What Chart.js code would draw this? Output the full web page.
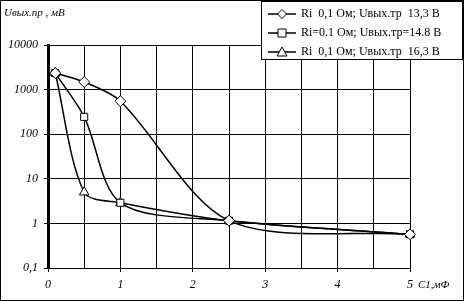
<!DOCTYPE html>
<html>
<head>
<meta charset="utf-8">
<script src="https://cdn.jsdelivr.net/npm/chart.js@4"></script>
<style>
  body { margin: 0; background: #fff; }
  #wrap { width: 464px; height: 301px; }
</style>
</head>
<body>
<div id="wrap"><canvas id="capChart" width="464" height="301"></canvas></div>
<script>
// Capacitance values C1, mF
const capValues = [0.1, 0.5, 1, 2.5, 5];

// Output ripple voltage, mV, for the three cases
const rippleA = [2350, 1480, 550, 1.15, 0.57];
const rippleB = [2350, 245, 2.9, 1.15, 0.57];
const rippleC = [2350, 5.0, 2.9, 1.15, 0.57];

const seriesLabels = [
    'Ri  0,1 Ом; Uвых.тр  13,3 В',
    'Ri=0.1 Ом; Uвых.тр=14.8 В',
    'Ri  0,1 Ом; Uвых.тр  16,3 В'
];
const seriesMarkers = ['rectRot', 'rect', 'triangle'];

const yTickValues = [0.1, 1, 10, 100, 1000, 10000];
const xTickStep = 0.5;

const serif = 'Liberation Serif, Times New Roman, serif';

function toPoints(values) {
    return capValues.map((c, i) => ({ x: c, y: values[i] }));
}

// Draw a marker like the ones in the legend
function drawMarker(ctx, type, x, y) {
    ctx.save();
    ctx.fillStyle = '#fff';
    ctx.strokeStyle = '#000';
    ctx.lineWidth = 1;
    ctx.beginPath();
    if (type === 'rectRot') {
        ctx.moveTo(x, y - 4.5);
        ctx.lineTo(x + 4.5, y);
        ctx.lineTo(x, y + 4.5);
        ctx.lineTo(x - 4.5, y);
    } else if (type === 'rect') {
        ctx.rect(x - 4, y - 4, 8, 8);
    } else {
        ctx.moveTo(x, y - 5);
        ctx.lineTo(x + 5, y + 4);
        ctx.lineTo(x - 5, y + 4);
    }
    ctx.closePath();
    ctx.fill();
    ctx.stroke();
    ctx.restore();
}

// White background, frame, titles and the boxed legend
const decorPlugin = {
    id: 'decor',
    beforeDraw(chart) {
        const ctx = chart.ctx;
        ctx.save();
        ctx.fillStyle = '#fff';
        ctx.fillRect(0, 0, chart.width, chart.height);
        ctx.restore();
    },
    afterDraw(chart) {
        const ctx = chart.ctx;
        ctx.save();
        ctx.strokeStyle = '#000';
        ctx.lineWidth = 1;
        ctx.strokeRect(0.5, 0.5, chart.width - 1, chart.height - 1);

        ctx.fillStyle = '#000';
        ctx.font = 'italic 11px ' + serif;
        ctx.textBaseline = 'middle';
        ctx.textAlign = 'left';
        ctx.fillText('Uвых.пр , мВ', 4, 13);
        ctx.fillText('C1,мФ', 418, 285);

        // legend box
        const lx = 261, ly = 1, lw = 202, lh = 59;
        ctx.fillStyle = '#fff';
        ctx.fillRect(lx, ly, lw, lh);
        ctx.strokeRect(lx + 0.5, ly + 0.5, lw - 1, lh - 1);

        ctx.font = '12px ' + serif;
        seriesLabels.forEach((label, i) => {
            const y = 14 + i * 19;
            ctx.strokeStyle = '#000';
            ctx.lineWidth = 1.5;
            ctx.beginPath();
            ctx.moveTo(268, y);
            ctx.lineTo(296, y);
            ctx.stroke();
            drawMarker(ctx, seriesMarkers[i], 282, y);
            ctx.fillStyle = '#000';
            ctx.fillText(label, 301, y);
        });
        ctx.restore();
    }
};

const datasets = [rippleA, rippleB, rippleC].map((values, i) => ({
    label: seriesLabels[i],
    data: toPoints(values),
    borderColor: '#000',
    borderWidth: 1.5,
    backgroundColor: '#fff',
    pointStyle: seriesMarkers[i],
    pointRadius: seriesMarkers[i] === 'rect' ? 5 : 5.5,
    pointBorderWidth: 1,
    pointBorderColor: '#000',
    pointBackgroundColor: '#fff',
    tension: 0.3,
    clip: false,
    fill: false
}));

new Chart(document.getElementById('capChart'), {
    type: 'line',
    data: { datasets: datasets },
    plugins: [decorPlugin],
    options: {
        responsive: false,
        animation: false,
        layout: { padding: { top: 45, right: 54, left: 0, bottom: 0 } },
        plugins: {
            legend: { display: false },
            tooltip: { enabled: false }
        },
        scales: {
            x: {
                type: 'linear',
                min: 0,
                max: 5,
                afterFit(scale) { scale.height = 33; },
                ticks: {
                    stepSize: xTickStep,
                    color: '#000',
                    font: { family: serif, style: 'italic', size: 12 },
                    padding: 6,
                    maxRotation: 0,
                    callback: v => Number.isInteger(v) ? String(v) : ''
                },
                grid: {
                    color: '#000',
                    lineWidth: 1,
                    tickLength: 4,
                    tickColor: c => Number.isInteger(c.tick.value) ? '#000' : 'rgba(0,0,0,0)'
                },
                border: { color: '#000', width: 1 }
            },
            y: {
                type: 'logarithmic',
                min: 0.1,
                max: 10000,
                afterFit(scale) { scale.width = 48; },
                afterBuildTicks(scale) {
                    scale.ticks = yTickValues.map(v => ({ value: v }));
                },
                ticks: {
                    color: '#000',
                    font: { family: serif, style: 'italic', size: 12 },
                    padding: 6,
                    callback: v => String(v).replace('.', ',')
                },
                grid: {
                    color: '#000',
                    lineWidth: 1,
                    tickLength: 4
                },
                border: { color: '#000', width: 3 }
            }
        }
    }
});
</script>
</body>
</html>
